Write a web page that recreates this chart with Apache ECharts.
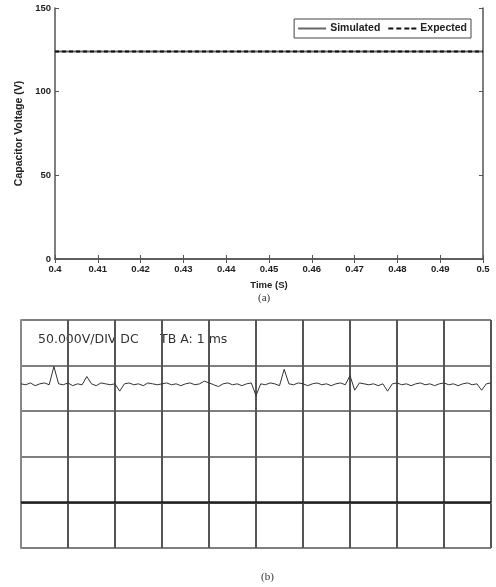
<!DOCTYPE html>
<html>
<head>
<meta charset="utf-8">
<script src="https://cdn.jsdelivr.net/npm/echarts@6/dist/echarts.min.js"></script>
<style>
  html, body { margin: 0; padding: 0; background: #fff; }
  #chart { width: 496px; height: 587px; }
</style>
</head>
<body>
<div id="chart"></div>
<script>
// (a) simulated vs expected capacitor voltage, 0.4 s – 0.5 s
const timeA = [0.40, 0.41, 0.42, 0.43, 0.44, 0.45, 0.46, 0.47, 0.48, 0.49, 0.50];
const simulatedV = [124, 124, 124, 124, 124, 124, 124, 124, 124, 124, 124];
const expectedV = [124, 124, 124, 124, 124, 124, 124, 124, 124, 124, 124];
const seriesNamesA = ['Simulated', 'Expected'];

// (b) scope capture, 1 ms per division, 50 V per division, sampled every 0.1 ms
const scopeStepMs = 0.1;
const scopeV = [
  130, 129, 131, 128, 130, 131, 129, 149, 130, 129,
  131, 128, 130, 129, 138, 130, 128, 131, 130, 129,
  130, 122, 130, 131, 129, 130, 128, 131, 130, 129,
  130, 131, 129, 130, 128, 130, 131, 129, 130, 133,
  131, 129, 127, 130, 131, 129, 130, 128, 130, 131,
  117, 130, 129, 131, 130, 128, 146, 130, 129, 131,
  130, 128, 130, 131, 129, 130, 128, 130, 131, 129,
  139, 123, 131, 130, 129, 130, 128, 130, 122, 130,
  131, 129, 130, 128, 130, 131, 129, 130, 128, 130,
  131, 129, 130, 128, 130, 131, 129, 130, 123, 130,
  131
];
const scopeCaptionLeft = '50.000V/DIV DC';
const scopeCaptionRight = 'TB A: 1 ms';

const dataA = (vals) => timeA.map((t, i) => [t, vals[i]]);
const scopeData = scopeV.map((v, i) => [+(i * scopeStepMs).toFixed(1), v]);

const axisGrey = '#555';
const labelFont = { fontFamily: 'Liberation Sans, Arial, sans-serif', fontWeight: 'bold', fontSize: 9.5, color: '#222' };

// legend swatches: a plain stroke and a dashed stroke
const solidIcon = 'path://M0,0h28v2h-28z';
const dashedIcon = 'path://M0,0h5v2h-5z M8,0h5v2h-5z M16,0h5v2h-5z M23,0h5v2h-5z';

const chart = echarts.init(document.getElementById('chart'), null, { renderer: 'canvas' });

chart.setOption({
  animation: false,
  backgroundColor: '#fff',
  title: [
    { text: '(a)', left: 253, top: 288, textStyle: { fontFamily: 'Liberation Serif, serif', fontSize: 11, fontWeight: 'normal', color: '#333' } },
    { text: '(b)', left: 256, top: 567, textStyle: { fontFamily: 'Liberation Serif, serif', fontSize: 11, fontWeight: 'normal', color: '#333' } }
  ],
  legend: {
    data: [
      { name: seriesNamesA[0], icon: solidIcon },
      { name: seriesNamesA[1], icon: dashedIcon }
    ],
    right: 25,
    top: 19,
    orient: 'horizontal',
    itemWidth: 28,
    itemHeight: 2,
    itemGap: 8,
    padding: [4, 4],
    borderColor: '#444',
    borderWidth: 1,
    textStyle: { fontFamily: 'Liberation Sans, Arial, sans-serif', fontWeight: 'bold', fontSize: 10.5, color: '#222', padding: [0, 0, 0, -1] }
  },
  grid: [
    { left: 55, right: 13, top: 8, height: 251, containLabel: false },
    { left: 21, width: 470, top: 320, height: 228, containLabel: false }
  ],
  xAxis: [
    {
      gridIndex: 0, type: 'value', min: 0.4, max: 0.5, interval: 0.01,
      name: 'Time (S)', nameLocation: 'middle', nameGap: 21,
      nameTextStyle: labelFont,
      axisLine: { lineStyle: { color: axisGrey, width: 1.5 } },
      axisTick: { inside: true, length: 4, lineStyle: { color: axisGrey } },
      axisLabel: Object.assign({ margin: 5 }, labelFont),
      splitLine: { show: false }
    },
    {
      gridIndex: 0, type: 'value', min: 0.4, max: 0.5, interval: 0.01, position: 'top',
      axisLine: { lineStyle: { color: axisGrey, width: 1.5 } },
      axisTick: { inside: true, length: 4, lineStyle: { color: axisGrey } },
      axisLabel: { show: false },
      splitLine: { show: false }
    },
    {
      gridIndex: 1, type: 'value', min: 0, max: 10, interval: 1,
      axisLine: { show: true, lineStyle: { color: '#888', width: 2 } },
      axisTick: { show: false },
      axisLabel: { show: false },
      splitLine: { show: true, lineStyle: { color: '#555', width: 2 } }
    }
  ],
  yAxis: [
    {
      gridIndex: 0, type: 'value', min: 0, max: 150, interval: 50,
      name: 'Capacitor Voltage (V)', nameLocation: 'middle', nameGap: 25, nameRotate: 90,
      nameTextStyle: Object.assign({}, labelFont, { fontSize: 10.5 }),
      axisLine: { show: true, lineStyle: { color: axisGrey, width: 1.5 } },
      axisTick: { show: true, inside: true, length: 4, lineStyle: { color: axisGrey } },
      axisLabel: Object.assign({ margin: 4 }, labelFont),
      splitLine: { show: false }
    },
    {
      gridIndex: 0, type: 'value', min: 0, max: 150, interval: 50, position: 'right',
      axisLine: { show: true, lineStyle: { color: axisGrey, width: 1.5 } },
      axisTick: { show: true, inside: true, length: 4, lineStyle: { color: axisGrey } },
      axisLabel: { show: false },
      splitLine: { show: false }
    },
    {
      gridIndex: 1, type: 'value', min: -50, max: 200, interval: 50,
      axisLine: { show: true, lineStyle: { color: '#888', width: 2 } },
      axisTick: { show: false },
      axisLabel: { show: false },
      splitLine: { show: true, lineStyle: { color: '#555', width: 1.5 } }
    }
  ],
  graphic: [
    { type: 'text', left: 38, top: 333, style: { text: scopeCaptionLeft, fontFamily: 'DejaVu Sans, sans-serif', fontSize: 12.5, fill: '#333' } },
    { type: 'text', left: 160, top: 333, style: { text: scopeCaptionRight, fontFamily: 'DejaVu Sans, sans-serif', fontSize: 12.5, fill: '#333' } }
  ],
  series: [
    {
      name: seriesNamesA[0], type: 'line', xAxisIndex: 0, yAxisIndex: 0,
      data: dataA(simulatedV), symbol: 'none',
      lineStyle: { color: '#666', width: 2, type: 'solid' }, itemStyle: { color: '#666' }
    },
    {
      name: seriesNamesA[1], type: 'line', xAxisIndex: 0, yAxisIndex: 0,
      data: dataA(expectedV), symbol: 'none',
      lineStyle: { color: '#111', width: 2, type: [4, 3] }, itemStyle: { color: '#111' }
    },
    {
      name: 'scope', type: 'line', xAxisIndex: 2, yAxisIndex: 2,
      data: scopeData, symbol: 'none',
      lineStyle: { color: '#333', width: 1 },
      markLine: {
        silent: true, symbol: 'none', label: { show: false },
        lineStyle: { color: '#222', width: 2.5, type: 'solid' },
        data: [{ yAxis: 0 }]
      }
    }
  ]
});
</script>
</body>
</html>
